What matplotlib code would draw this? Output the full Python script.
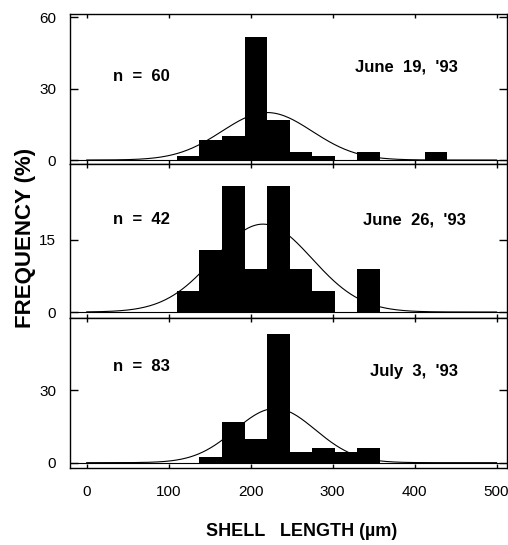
import numpy as np
import matplotlib.pyplot as plt

# bin edges (um), all panels use the same 27.5 um bins
bin_left = [110, 137.5, 165, 192.5, 220, 247.5, 275, 302.5, 330, 357.5, 385, 412.5]
bin_w = 27.5

# frequency (%) per bin
freq_jun19 = [1.7, 8.3, 10.0, 51.7, 16.7, 3.3, 1.7, 0, 3.3, 0, 0, 3.3]
freq_jun26 = [4.4, 13.0, 26.3, 8.9, 26.3, 8.9, 4.4, 0, 8.9, 0, 0, 0]
freq_jul03 = [0, 2.4, 16.9, 9.6, 53.0, 4.3, 6.0, 4.3, 6.0, 0, 0, 0]

# fitted normal curves (mean, sd in um)
fit_mean = [220, 215, 230]
fit_sd = [55, 60, 49]

n_vals = [60, 42, 83]
dates = ["June  19,  '93", "June  26,  '93", "July  3,  '93"]
ylims = [(-1.7, 61.3), (-1.25, 30.8), (-2.2, 59.8)]
yticks = [[0, 30, 60], [0, 15], [0, 30]]
# text positions in data units
n_pos = [(32, 35), (32, 19.2), (32, 39.6)]
date_pos = [(327, 39), (337, 19.2), (345, 37.6)]

fig = plt.figure(figsize=(5.08, 5.45), dpi=100)
rects = [[0.1378, 0.699, 0.860, 0.275],
         [0.1378, 0.4165, 0.860, 0.2826],
         [0.1378, 0.1413, 0.860, 0.2752]]

bold = dict(family='Liberation Sans', weight='bold')
xs = np.linspace(0, 500, 400)

for i, freq in enumerate([freq_jun19, freq_jun26, freq_jul03]):
    ax = fig.add_axes(rects[i])
    ax.bar(bin_left, freq, width=bin_w, align='edge', color='black', edgecolor='none')
    ax.axhline(0, color='black', lw=0.8)
    curve = 100 * bin_w / (fit_sd[i] * np.sqrt(2 * np.pi)) * np.exp(-0.5 * ((xs - fit_mean[i]) / fit_sd[i]) ** 2)
    ax.plot(xs, curve, color='black', lw=0.8)

    ax.set_xlim(-20.4, 512.6)
    ax.set_ylim(*ylims[i])
    ax.set_xticks([0, 100, 200, 300, 400, 500])
    ax.set_yticks(yticks[i])
    ax.tick_params(axis='y', direction='in', length=6, width=1, left=True, right=True,
                   labelsize=11, pad=10)
    ax.tick_params(axis='x', direction='in', length=3, width=1, top=True, bottom=True,
                   labelsize=11, pad=12)
    for lab in ax.get_xticklabels() + ax.get_yticklabels():
        lab.set_family('Liberation Sans')
    if i < 2:
        ax.tick_params(axis='x', labelbottom=False)
    for s in ax.spines.values():
        s.set_linewidth(1)

    ax.text(n_pos[i][0], n_pos[i][1], 'n  =  %d' % n_vals[i], fontsize=12, va='center', **bold)
    ax.text(date_pos[i][0], date_pos[i][1], dates[i], fontsize=12, va='center', **bold)

fig.text(0.051, 0.563, 'FREQUENCY (%)', rotation=90, fontsize=16, ha='center', va='center', **bold)
fig.text(0.593, 0.024, 'SHELL   LENGTH (µm)', fontsize=13, ha='center', va='center', **bold)

fig.savefig('out.png', dpi=100)
